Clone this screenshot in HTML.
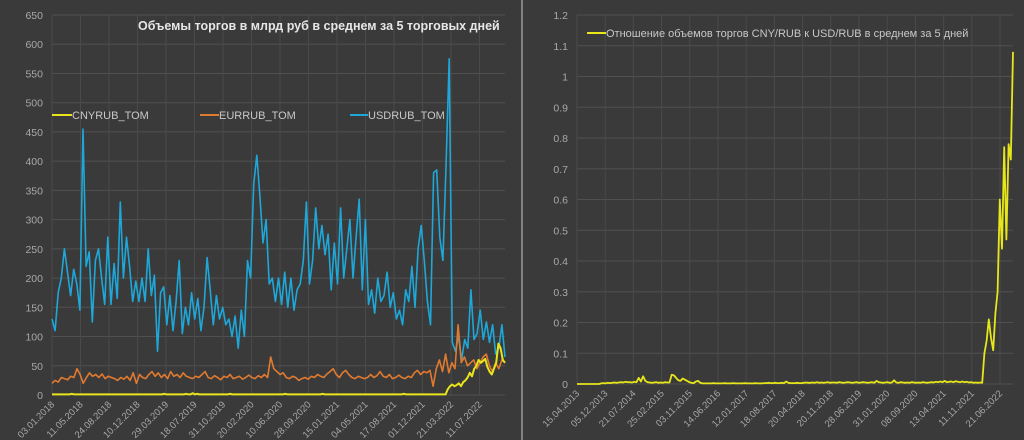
<!DOCTYPE html>
<html><head><meta charset="utf-8"><style>
html,body{margin:0;padding:0;background:#3a3a3a;}
svg{display:block;font-family:"Liberation Sans","Noto Sans CJK SC",sans-serif;}
</style></head><body>
<svg id="s" width="1024" height="440" viewBox="0 0 1024 440">
<rect x="0" y="0" width="1024" height="440" fill="#3a3a3a"/>
<line x1="522" y1="0" x2="522" y2="440" stroke="#9a9a9a" stroke-width="1.5"/>
<g id="L"></g>
<g id="R"></g>
<text x="138" y="30" fill="#e6e6e6" font-size="12.5" font-weight="bold">Объемы торгов в млрд руб в среднем за 5 торговых дней</text>
<g>
<line x1="52" y1="115" x2="72" y2="115" stroke="#e8e41c" stroke-width="2"/>
<text x="72" y="119" fill="#c8c8c8" font-size="11">CNYRUB_TOM</text>
<line x1="200" y1="115" x2="219" y2="115" stroke="#e07a30" stroke-width="2"/>
<text x="219" y="119" fill="#c8c8c8" font-size="11">EURRUB_TOM</text>
<line x1="350" y1="115" x2="368" y2="115" stroke="#1ea7d8" stroke-width="2"/>
<text x="368" y="119" fill="#c8c8c8" font-size="11">USDRUB_TOM</text>
</g>
<g>
<line x1="587" y1="33" x2="606" y2="33" stroke="#e6e61a" stroke-width="2"/>
<text x="606" y="37" fill="#c8c8c8" font-size="11">Отношение объемов торгов CNY/RUB к USD/RUB в среднем за 5 дней</text>
</g>
</svg>
<script>
const leftDates=["03.01.2018","11.05.2018","24.08.2018","10.12.2018","29.03.2019","18.07.2019","31.10.2019","20.02.2020","10.06.2020","28.09.2020","15.01.2021","04.05.2021","17.08.2021","01.12.2021","21.03.2022","11.07.2022"];
const leftYTicks=[0,50,100,150,200,250,300,350,400,450,500,550,600,650];
const usdValues=[130,110,175,200,250,210,170,215,190,145,455,220,245,125,230,250,200,155,270,155,225,165,330,200,270,220,160,195,160,200,160,250,170,205,75,175,185,120,170,110,160,230,105,150,120,175,130,165,110,150,235,180,120,170,130,150,120,130,100,135,80,145,100,230,200,360,410,340,260,300,190,200,160,200,155,210,150,200,145,180,190,230,330,190,230,320,250,290,240,275,180,260,190,320,200,250,300,200,270,335,180,300,155,180,140,200,160,170,210,150,175,130,145,120,180,160,220,150,250,290,230,160,120,380,385,270,230,390,575,90,75,100,60,95,80,180,95,105,145,95,125,90,120,70,80,120,65];
const eurValues=[20,25,22,30,28,26,32,30,45,35,20,30,38,32,35,30,36,28,32,30,28,25,30,27,32,25,38,20,35,30,28,35,40,32,38,30,35,28,40,32,35,30,38,32,30,28,32,30,35,40,
30,28,33,30,26,32,30,35,28,30,32,27,30,34,30,28,33,30,35,30,
65,45,40,35,38,30,28,32,30,25,28,30,27,32,30,35,32,30,36,40,45,35,30,38,42,35,30,28,32,30,28,30,35,30,33,40,
32,30,35,28,30,34,30,28,32,30,
38,42,35,40,38,42,15,45,60,40,70,38,55,45,120,55,65,50,55,60,45,55,65,70,50,40,55,45,60,55];
const cnyValues=[1,1,1,1,1,1,1,1,1,2,1,1,1,1,1,1,1,1,1,1,1,1,1,1,1,1,1,1,1,1,1,1,1,1,1,1,1,1,1,1,1,1,1,1,1,1,1,1,1,1,
1,2,1,1,1,1,1,1,1,1,1,2,1,1,3,1,2,1,1,1,1,1,1,1,1,1,1,1,1,1,1,2,1,1,1,1,1,1,1,1,1,1,1,1,1,1,1,1,1,1,
1,1,1,1,1,1,2,1,1,1,1,1,1,1,1,1,1,1,1,1,1,1,1,2,1,1,1,1,1,1,1,1,1,1,1,1,1,1,1,1,1,1,1,1,1,1,1,1,1,1,
1,1,1,1,1,1,1,1,1,1,2,1,1,1,1,1,1,1,1,1,1,1,1,1,1,1,1,1,1,1,
10,15,18,15,17,20,15,22,25,30,38,32,45,50,60,55,58,62,48,40,35,45,55,88,80,60,55];
const rightDates=["15.04.2013","05.12.2013","21.07.2014","25.02.2015","03.11.2015","14.06.2016","12.01.2017","18.08.2017","20.04.2018","20.11.2018","28.06.2019","31.01.2020","08.09.2020","13.04.2021","11.11.2021","21.06.2022"];
const rightYTicks=[0,0.1,0.2,0.3,0.4,0.5,0.6,0.7,0.8,0.9,1,1.1,1.2];
const rightYLabels=["0","0.1","0.2","0.3","0.4","0.5","0.6","0.7","0.8","0.9","1","1.1","1.2"];
const ratioValues=[0,0,0,0,0,0,0,0,0,0,0,0.002,0.003,0.002,0.004,0.003,0.004,0.005,0.004,0.005,
0.006,0.005,0.007,0.006,0.006,0.005,0.007,0.006,0.02,0.008,0.025,0.01,0.006,0.005,0.004,0.005,0.006,0.004,0.005,0.004,
0.006,0.005,0.005,0.03,0.028,0.02,0.012,0.01,0.018,0.014,0.01,0.006,0.004,0.003,0.008,0.01,0.004,0.002,0.002,0.002,
0.002,0.002,0.003,0.002,0.002,0.002,0.002,0.003,0.002,0.002,0.002,0.003,0.002,0.002,0.002,0.002,0.003,0.002,0.002,0.002,
0.002,0.003,0.002,0.002,0.002,0.003,0.003,0.004,0.003,0.003,0.004,0.003,0.003,0.004,0.003,0.008,0.004,0.003,0.003,0.003,
0.004,0.003,0.003,0.004,0.005,0.004,0.004,0.005,0.004,0.006,0.004,0.005,0.004,0.005,0.006,0.004,0.005,0.005,0.004,0.006,
0.005,0.004,0.005,0.006,0.005,0.004,0.005,0.006,0.004,0.005,0.006,0.005,0.004,0.005,0.006,0.004,0.01,0.006,0.005,0.004,
0.005,0.006,0.004,0.005,0.012,0.005,0.004,0.006,0.005,0.004,0.005,0.004,0.006,0.005,0.004,0.005,0.004,0.006,0.005,0.004,
0.005,0.006,0.005,0.007,0.006,0.008,0.006,0.01,0.006,0.007,0.008,0.006,0.009,0.007,0.006,0.008,0.006,0.007,0.005,0.006,
0.004,0.005,0.004,0.005,0.004,0.1,0.14,0.21,0.15,0.11,0.23,0.3,0.6,0.44,0.77,0.47,0.78,0.73,1.08];

const NS="http://www.w3.org/2000/svg";
function mk(parent,tag,attrs){const e=document.createElementNS(NS,tag);for(const k in attrs)e.setAttribute(k,attrs[k]);parent.appendChild(e);return e;}

function drawChart(g,cfg){
  const yS=v=>cfg.y0-(v-cfg.ymin)/(cfg.ymax-cfg.ymin)*(cfg.y0-cfg.y1);
  const n=cfg.xlabels.length;
  const step=cfg.labelStep;
  cfg.yticks.forEach((t,i)=>{
    const y=yS(t);
    const gl=mk(g,"line",{x1:cfg.x0,x2:cfg.x1,y1:y,y2:y,stroke:"#505050","stroke-width":1});
    
    
    const tx=mk(g,"text",{x:cfg.x0-9,y:y+4,fill:"#a8a8a8","font-size":10.5,"text-anchor":"end"});
    tx.textContent=cfg.ylabels?cfg.ylabels[i]:String(t);
    
    
  });
  for(let i=0;i<n;i++){
    const x=cfg.x0+i*step;
    const gl=mk(g,"line",{x1:x,x2:x,y1:cfg.y1,y2:cfg.y0,stroke:"#4a4a4a","stroke-width":1});
    
    
    const tx=mk(g,"text",{x:0,y:0,fill:"#a8a8a8","font-size":9.5,"text-anchor":"end",transform:`translate(${x+3},${cfg.y0+10}) rotate(-45)`});
    tx.textContent=cfg.xlabels[i];
    
    
  }
  cfg.series.forEach(s=>{
    const m=s.values.length;
    const pts=s.values.map((v,i)=>(cfg.x0+i/(m-1)*(cfg.x1-cfg.x0)).toFixed(1)+","+yS(v).toFixed(1)).join(" ");
    const pl=mk(g,"polyline",{points:pts,fill:"none",stroke:s.color,"stroke-width":s.w||1.6,"stroke-linejoin":"round"});
    
    
  });
}
drawChart(document.getElementById("L"),{x0:52,x1:505,y0:395,y1:15,ymin:0,ymax:650,labelStep:28.5,
  yticks:leftYTicks,xlabels:leftDates,
  series:[{values:usdValues,color:"#1ea7d8",name:"usdrub-line"},{values:eurValues,color:"#e07a30",name:"eurrub-line"},{values:cnyValues,color:"#e8e41c",name:"cnyrub-line",w:2}]});
drawChart(document.getElementById("R"),{x0:577,x1:1013,y0:384,y1:15,ymin:0,ymax:1.2,labelStep:28.2,
  yticks:rightYTicks,ylabels:rightYLabels,xlabels:rightDates,
  series:[{values:ratioValues,color:"#e6e61a",name:"ratio-line",w:1.8}]});
</script>
</body></html>
